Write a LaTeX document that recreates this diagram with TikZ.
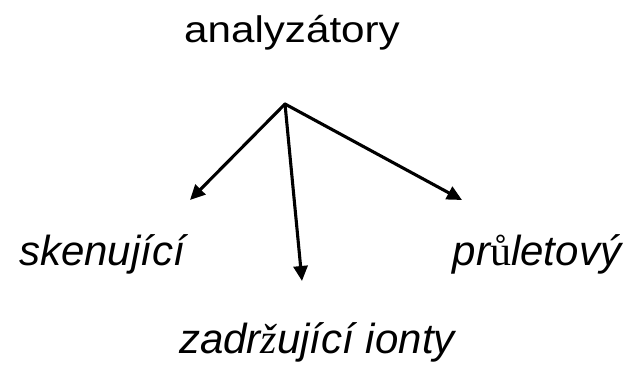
\documentclass[tikz,border=0pt]{standalone}
\usepackage{fontspec}
\setmainfont{Liberation Sans}
\newfontfamily\glyphfb{Liberation Serif}
\usepackage{tikz}
\usetikzlibrary{arrows.meta}
\usetikzlibrary{positioning}

\tikzset{
  title/.style={anchor=base,inner sep=0pt,font=\fontsize{37}{40}\selectfont,xscale=1.14},
  kind/.style={anchor=base,inner sep=0pt,font=\fontsize{42}{48}\selectfont\itshape},
  branch/.style={-{Triangle[length=15pt,width=14pt]},line width=3.1pt}
}

\begin{document}
\begin{tikzpicture}[line cap=round,line join=round,x=1pt,y=-1pt]
\useasboundingbox (0,0) rectangle (626,374);
% nadpis a popisky
\node[title] (analyzatory) at (292,43) {analyzátory};
\node[kind] (skenujici) at (102,265) {skenující};
\node[kind] (pruletovy) at (537,265) {pr{\glyphfb\upshape ů}letový};
\node[kind] (zadrzujici) at (317,353) {zadr{\glyphfb ž}ující ionty};
% vetveni
\coordinate (hub) at (285,104);
\coordinate (tipL) at (190,200);
\coordinate (tipM) at (302,281);
\coordinate (tipR) at (462,200);
\draw[branch] (hub) -- (tipL);
\draw[branch] (hub) -- (tipM);
\draw[branch] (hub) -- (tipR);
\end{tikzpicture}
\end{document}
